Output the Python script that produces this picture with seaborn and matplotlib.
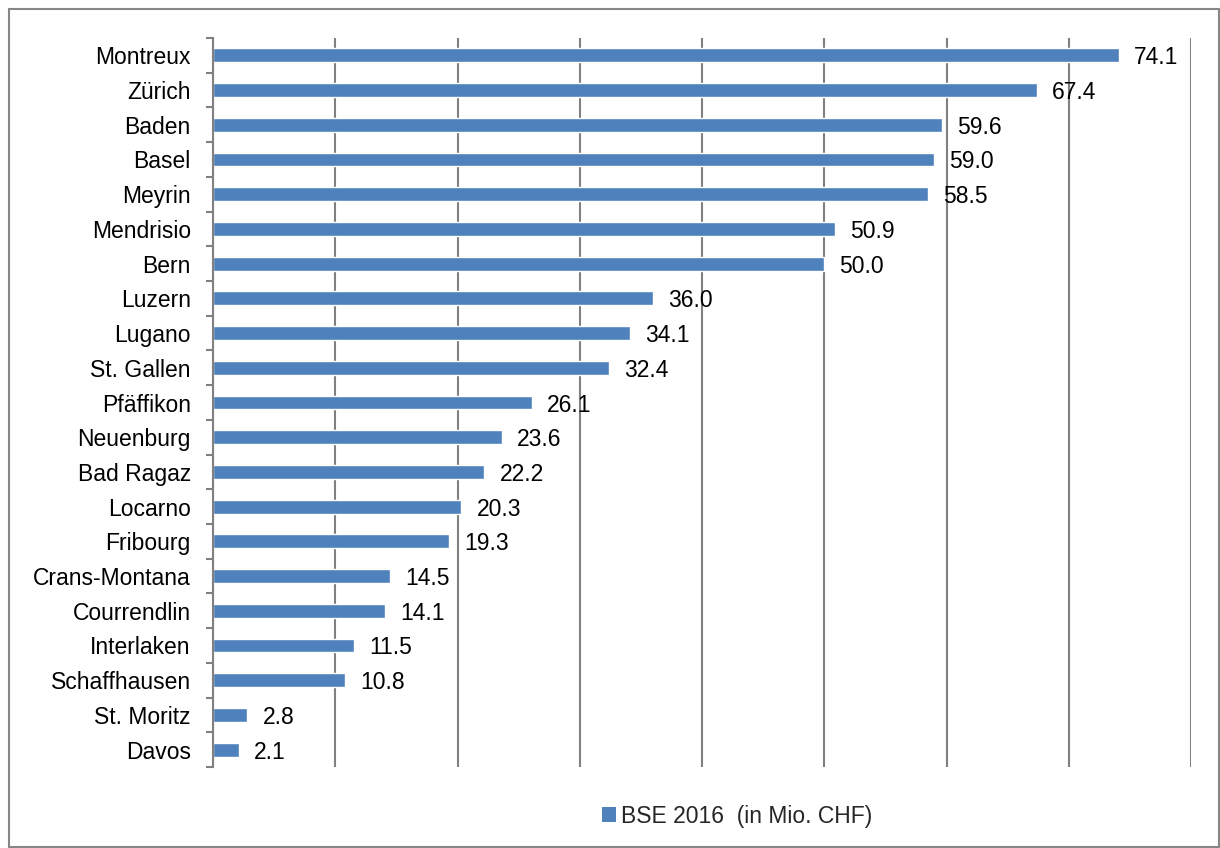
import matplotlib
matplotlib.use("Agg")
import matplotlib.pyplot as plt
import seaborn as sns
import numpy as np
import pandas as pd
from matplotlib.patches import Rectangle, Patch

cities = ["Montreux", "Zürich", "Baden", "Basel", "Meyrin", "Mendrisio", "Bern",
          "Luzern", "Lugano", "St. Gallen", "Pfäffikon", "Neuenburg", "Bad Ragaz",
          "Locarno", "Fribourg", "Crans-Montana", "Courrendlin", "Interlaken",
          "Schaffhausen", "St. Moritz", "Davos"]
values = [74.1, 67.4, 59.6, 59.0, 58.5, 50.9, 50.0, 36.0, 34.1, 32.4, 26.1,
          23.6, 22.2, 20.3, 19.3, 14.5, 14.1, 11.5, 10.8, 2.8, 2.1]
series_name = "BSE 2016  (in Mio. CHF)"
x_ticks = [0, 10, 20, 30, 40, 50, 60, 70, 80]

sns.set_theme(style="white")
plt.rcParams['font.family'] = ['Liberation Sans', 'DejaVu Sans']

df = pd.DataFrame({"city": cities, "value": values})

fig = plt.figure(figsize=(12.2, 8.48), dpi=100)
ax = fig.add_axes([213/1220, 1-767/848, (1191-213)/1220, (767-38)/848])

color = "#4F81BD"
sns.barplot(data=df, x="value", y="city", color=color, width=0.4, ax=ax,
            saturation=1, orient="h")

ax.set_xlim(0, 80)
ax.set_ylim(len(cities)-0.5, -0.5)
ax.set_xticks(x_ticks)
ax.set_xticklabels([])
ax.tick_params(axis="x", length=0)
ax.set_xlabel("")
ax.set_ylabel("")
ax.grid(axis="x", color="#808080", linewidth=1.5)
ax.set_axisbelow(True)

fs = 16.5
# y ticks: labels at centres, tick marks at boundaries
ax.tick_params(axis="y", which="major", length=0, pad=16, labelsize=fs, labelcolor="black")
ax.set_yticks(np.arange(-0.5, len(cities)+0.5, 1), minor=True)
ax.tick_params(axis="y", which="minor", length=5, width=1.5, color="#808080", direction="out", left=True)

for s in ["top", "right", "bottom"]:
    ax.spines[s].set_visible(False)
ax.spines["left"].set_color("#808080")
ax.spines["left"].set_linewidth(1.5)

for cont in ax.containers:
    texts = ax.bar_label(cont, labels=[f"{v:.1f}" for v in values], padding=11, fontsize=fs, color="black")
    for t in texts:
        t.set_verticalalignment("center_baseline")

handle = Patch(facecolor=color, edgecolor="none")
fig.legend([handle], [series_name], loc="center", bbox_to_anchor=(737/1220, 1-816/848),
           frameon=False, fontsize=fs, handlelength=0.6, handleheight=0.6, handletextpad=0.2)

fig.patches.append(Rectangle((9/1220, 1/848), 1210/1220, 1-10/848, transform=fig.transFigure,
                             fill=False, edgecolor="#868686", linewidth=1.5))

fig.savefig("out.png", dpi=100)
